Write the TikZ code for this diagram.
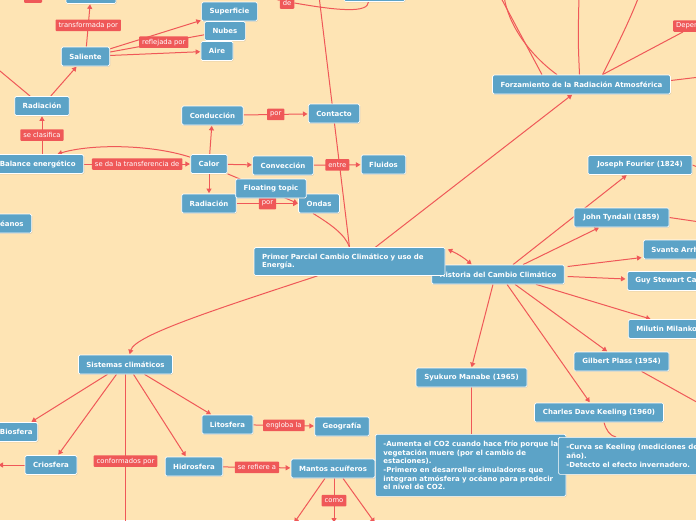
\documentclass[tikz,border=0pt]{standalone}
\usepackage{fontspec}
\setmainfont{DejaVu Sans}
\usetikzlibrary{arrows.meta,shadows}
\definecolor{paperbg}{RGB}{254,228,180}
\definecolor{topicblue}{RGB}{92,163,199}
\definecolor{linkred}{RGB}{239,88,88}
\pgfdeclarelayer{paper}\pgfdeclarelayer{links}
\pgfsetlayers{paper,links,main}
\begin{document}
\begin{tikzpicture}[
 x=1pt,y=-1pt,
 >={Triangle[length=4.5pt,width=5pt]},
 topic/.style={draw=white,line width=.7pt,fill=topicblue,rounded corners=1.5pt,
  text=white,font=\fontsize{7}{8.6}\selectfont\bfseries,inner xsep=8pt,inner ysep=3pt,
  minimum height=19pt,drop shadow={shadow xshift=.6pt,shadow yshift=-.8pt,opacity=.25}},
 lbl/.style={fill=linkred,text=white,font=\fontsize{6.8}{8}\selectfont,rounded corners=.8pt,
  inner xsep=3pt,inner ysep=0pt,minimum height=11.5pt},
 link/.style={draw=linkred,line width=1pt},
 arr/.style={link,->,shorten >=.5pt}]
 \useasboundingbox (0,0) rectangle (696,520);
 \begin{pgfonlayer}{paper}
  \fill[paperbg] (0,0) rectangle (696,520);
 \end{pgfonlayer}
 % Radiation branch.
 \node[lbl,minimum width=18] (lblTop) at (33,-3) {};
 \node[topic,minimum width=50] (topA) at (91,-6) {};
 \node[topic,minimum width=47] (saliente) at (85.5,56.5) {Saliente};
 \node[topic,minimum width=55] (superficie) at (229.5,11.5) {Superficie};
 \node[topic,minimum width=40] (nubes) at (225,31) {Nubes};
 \node[topic,minimum width=32] (aire) at (217,51) {Aire};
 \node[topic,minimum width=54] (radA) at (42,106) {Radiación};
 \node[topic,anchor=east] (balance) at (84,164) {Balance energético};
 % Heat branch.
 \node[topic,minimum width=36] (calor) at (209,164) {Calor};
 \node[topic,minimum width=61] (conduccion) at (212.5,115.5) {Conducción};
 \node[topic,minimum width=50] (contacto) at (334,113.5) {Contacto};
 \node[topic,minimum width=60] (conveccion) at (283,165.5) {Convección};
 \node[topic,minimum width=43] (fluidos) at (383.5,164.5) {Fluidos};
 \node[topic,minimum width=54] (radB) at (209,203.5) {Radiación};
 \node[topic,minimum width=40] (ondas) at (319,203.5) {Ondas};
 \node[topic,minimum width=68] (floating) at (271,188.5) {Floating topic};
 \node[topic,minimum width=61] (topB) at (374.5,-8) {};
 \node[lbl] (lblDe) at (287,3) {de};
 % Forcing.
 \node[topic,minimum width=177] (forz) at (581.5,84.5) {Forzamiento de la Radiación Atmosférica};
 \node[lbl,anchor=west,text width=40,align=left] (lblDepen) at (673,26) {Depen};
 % Root and history.
 \node[topic,minimum width=132] (historia) at (498,274.5) {Historia del Cambio Climático};
 \node[topic,text width=175,align=left,minimum height=28] (primer) at (349.5,261.5)
  {Primer Parcial Cambio Climático y uso de\\Energía.};
 \node[topic,minimum width=104] (fourier) at (640,165) {Joseph Fourier (1824)};
 \node[topic,minimum width=95] (tyndall) at (621.5,217.5) {John Tyndall (1859)};
 \node[topic,anchor=west] (svante) at (643,249.5) {Svante Arrh};
 \node[topic,anchor=west] (guy) at (627,281) {Guy Stewart Ca};
 \node[topic,anchor=west] (milutin) at (628,329) {Milutin Milanko};
 \node[topic,minimum width=95] (gilbert) at (621.5,361.5) {Gilbert Plass (1954)};
 \node[topic,minimum width=129] (keeling) at (599,412.5) {Charles Dave Keeling (1960)};
 \node[topic,minimum width=111] (manabe) at (471.5,377.5) {Syukuro Manabe (1965)};
 \node[topic,anchor=north west,align=left,minimum width=190,minimum height=62] (manabeNote) at (375,434)
  {-Aumenta el CO2 cuando hace frío porque la\\vegetación muere (por el cambio de\\estaciones).\\-Primero en desarrollar simuladores que\\integran atmósfera y océano para predecir\\el nivel de CO2.};
 \node[topic,anchor=north west,align=left,minimum height=37] (keelingNote) at (558,437)
  {-Curva se Keeling (mediciones de\\año).\\-Detecto el efecto invernadero.};
 % Climate systems.
 \node[topic,anchor=east,text width=40,align=right] (oceanos) at (32,223.5) {éanos};
 \node[topic,minimum width=93] (sistemas) at (125.5,364.5) {Sistemas climáticos};
 \node[topic,anchor=east,inner xsep=5pt] (biosfera) at (38,432) {Biosfera};
 \node[topic,minimum width=51] (criosfera) at (51,465) {Criosfera};
 \node[topic,minimum width=57] (hidrosfera) at (194,466.5) {Hidrosfera};
 \node[topic,minimum width=51] (litosfera) at (227.5,424.5) {Litosfera};
 \node[topic,minimum width=54] (geografia) at (342,426.5) {Geografía};
 \node[topic,minimum width=82] (mantos) at (333,468.5) {Mantos acuíferos};

 \begin{pgfonlayer}{links}
  % Loose ends run off the page.
  \coordinate (offRad) at (-6,66);
  \coordinate (offTop) at (319,-4);
  \coordinate (offDe) at (270,-3);
  \coordinate (up1) at (500,-4); \coordinate (up2) at (504,-4);
  \coordinate (up3) at (579,-4); \coordinate (up4) at (639,-4);
  \coordinate (offForz) at (700,77);
  \coordinate (offFourier) at (700,168);
  \coordinate (offTyndall) at (700,222);
  \coordinate (offGilbert) at (702,405);
  \coordinate (offSist) at (125.5,525);
  \coordinate (offCrio) at (-2,465);
  \coordinate (offMantosA) at (294,523);
  \coordinate (offMantosB) at (334,523);
  \coordinate (offMantosC) at (375,523);
  \draw[link] (primer.north) -- (offTop);
  \draw[link] ([xshift=-6]ondas.south) .. controls (330,224) and (345,234) .. (primer.north);
  % Radiation.
  \draw[arr] (saliente) -- node[lbl]{transformada por} (topA);
  \draw[arr] (saliente) -- (superficie);
  \draw[link] (saliente) -- node[lbl,pos=.57]{reflejada por} (nubes);
  \draw[arr] (saliente) -- (aire);
  \draw[arr] (radA) -- (saliente);
  \draw[arr] (radA) -- (offRad);
  \draw[arr] (balance.north -| radA.south) -- node[lbl]{se clasifica} (radA.south);
  \draw[arr] (balance) -- node[lbl]{se da la transferencia de} (calor);
  \draw[arr] (calor.160) .. controls (150,144) and (90,144) .. (balance.27);
  % Heat.
  \draw[arr] (calor) -- (conduccion);
  \draw[arr] (conduccion) -- node[lbl]{por} (contacto);
  \draw[arr] (calor) -- (conveccion);
  \draw[arr] (conveccion) -- node[lbl]{entre} (fluidos);
  \draw[arr] (calor) -- (radB);
  \draw[arr] (calor.south east) -- (ondas.west);
  \draw[arr] (radB) -- node[lbl]{por} (ondas);
  \draw[link] (offDe) -- (lblDe);
  \draw[link] (lblDe.east) .. controls (340,11) and (368,13) .. ([xshift=-6]topB.south);
  % Forcing.
  \draw[link] ([xshift=-39.5]forz.north) -- (up1);
  \draw[link] ([xshift=-24.5]forz.north) .. controls (530,55) and (508,25) .. (up2);
  \draw[link] ([xshift=-2]forz.north) .. controls (578,40) .. (up3);
  \draw[link] ([xshift=21]forz.north) .. controls (615,50) and (630,20) .. (up4);
  \draw[link] ([xshift=21]forz.north) -- ([xshift=10]lblDepen.south west);
  \draw[link] ([shift={(0,-4)}]forz.east) -- (offForz);
  \draw[arr] ([xshift=26]primer.north) -- ([xshift=-9]forz.south);
  % History.
  \draw[link,<->,shorten >=.5pt,shorten <=.5pt] ([shift={(2,2)}]primer.north east) to[bend left=8] ([xshift=-26]historia.north);
  \draw[arr] ([xshift=15]historia.north) -- ([xshift=-13]fourier.south);
  \draw[arr] ([xshift=25]historia.north) -- ([xshift=-22]tyndall.south);
  \draw[arr] ([shift={(3,-8)}]historia.east) -- ([shift={(-1,8)}]svante.west);
  \draw[arr] ([shift={(3,2)}]historia.east) -- ([shift={(-1,-2)}]guy.west);
  \draw[arr] ([xshift=38]historia.south) -- ([xshift=23]milutin.north west);
  \draw[arr] ([xshift=17]historia.south) -- ([xshift=-14]gilbert.north);
  \draw[arr] ([xshift=9]historia.south) -- ([xshift=-9]keeling.north);
  \draw[arr] ([xshift=-5]historia.south) -- (manabe.north);
  \draw[link] (manabe.south) -- (manabe.south |- manabeNote.north);
  \draw[link] ([xshift=5]keeling.south) .. controls (606,430) and (610,436) .. ([xshift=58]keelingNote.north west);
  \draw[link] (fourier.east) -- (offFourier);
  \draw[link] (tyndall.east) -- (offTyndall);
  \draw[link] ([xshift=20]gilbert.south) -- (offGilbert);
  % Climate systems.
  \draw[arr] ([xshift=-32]primer.south) .. controls (220,308) and (135,335) .. ([xshift=4]sistemas.north);
  \draw[arr] ([xshift=-18]sistemas.south) -- ([xshift=-7]biosfera.north east);
  \draw[arr] ([xshift=-9]sistemas.south) -- ([xshift=7]criosfera.north);
  \draw[link] (sistemas.south) -- node[lbl,pos=.576]{conformados por} (offSist);
  \draw[arr] ([xshift=8]sistemas.south) -- ([xshift=-8]hidrosfera.north);
  \draw[arr] ([xshift=19]sistemas.south) -- ([xshift=-16]litosfera.north);
  \draw[arr] (criosfera.west) -- (offCrio);
  \draw[arr] (litosfera) -- node[lbl]{engloba la} (geografia);
  \draw[arr] (hidrosfera) -- node[lbl]{se refiere a} (mantos);
  \draw[arr] ([xshift=-8]mantos.south) -- (offMantosA);
  \draw[arr] ([xshift=1]mantos.south) -- node[lbl,pos=.5]{como} (offMantosB);
  \draw[arr] ([xshift=10]mantos.south) -- (offMantosC);
 \end{pgfonlayer}
\end{tikzpicture}
\end{document}
